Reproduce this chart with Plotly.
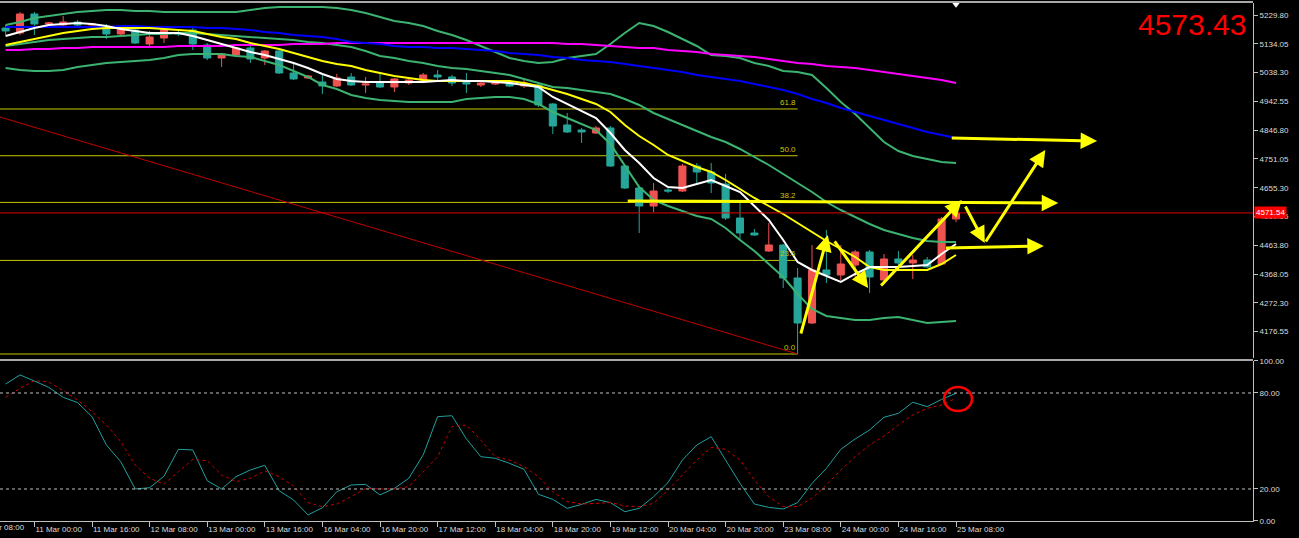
import plotly.graph_objects as go

# ---------------- data ----------------
bar_index = list(range(67))
tick_index = [2, 6, 10, 14, 18, 22, 26, 30, 34, 38, 42, 46, 50, 54, 58, 62, 66]
tick_labels = ["11 Mar 00:00", "11 Mar 16:00", "12 Mar 08:00", "13 Mar 00:00", "13 Mar 16:00",
               "16 Mar 04:00", "16 Mar 20:00", "17 Mar 12:00", "18 Mar 04:00", "18 Mar 20:00",
               "19 Mar 12:00", "20 Mar 04:00", "20 Mar 20:00", "23 Mar 08:00", "24 Mar 00:00",
               "24 Mar 16:00", "25 Mar 08:00"]
first_partial_label = "10 Mar 08:00"
price_ticks = [5229.80, 5134.05, 5038.30, 4942.55, 4846.80, 4751.05, 4655.30, 4559.55,
               4463.80, 4368.05, 4272.30, 4176.55]
osc_ticks = [0, 20, 80, 100]

opens = [5186.6, 5169.9, 5233.1, 5199.9, 5196.5, 5206.5, 5196.5, 5189.9, 5166.6, 5179.9,
         5133.4, 5153.3, 5169.9, 5179.9, 5130.0, 5086.8, 5096.8, 5120.1, 5086.8, 5110.1,
         5036.9, 5020.3, 5007.0, 4993.7, 5023.6, 4997.0, 5003.6, 4990.3, 5003.6, 5013.6,
         5030.3, 5023.6, 5007.0, 4997.0, 5000.3, 5007.0, 4993.7, 4997.0, 4933.8, 4864.0,
         4847.3, 4837.3, 4854.0, 4727.6, 4654.4, 4594.5, 4647.8, 4644.4, 4727.6, 4707.6,
         4667.7, 4554.6, 4504.7, 4444.9, 4464.8, 4355.1, 4205.4, 4381.7, 4365.1, 4398.3,
         4441.6, 4348.4, 4418.3, 4405.0, 4414.9, 4401.6, 4551.3]
highs = [5196.5, 5239.8, 5239.8, 5206.5, 5226.5, 5213.2, 5203.2, 5199.9, 5189.9, 5186.6,
         5176.6, 5183.2, 5179.9, 5186.6, 5136.7, 5103.4, 5123.4, 5126.7, 5113.4, 5113.4,
         5070.2, 5030.3, 5033.6, 5033.6, 5036.9, 5023.6, 5036.9, 5020.3, 5020.3, 5036.9,
         5046.9, 5030.3, 5036.9, 5007.0, 5007.0, 5013.6, 5013.6, 5003.6, 4937.1, 4903.9,
         4854.0, 4860.6, 4860.6, 4730.9, 4657.7, 4671.1, 4657.7, 4734.2, 4737.6, 4737.6,
         4701.0, 4604.5, 4518.0, 4538.0, 4468.2, 4388.3, 4464.8, 4514.7, 4464.8, 4448.3,
         4448.3, 4434.9, 4444.9, 4431.6, 4424.9, 4558.0, 4591.2]
lows = [5163.3, 5163.3, 5163.3, 5193.2, 5193.2, 5193.2, 5189.9, 5150.0, 5163.3, 5133.4,
        5123.4, 5136.7, 5160.0, 5113.4, 5080.1, 5056.9, 5093.4, 5070.2, 5063.5, 5033.6,
        5013.6, 5017.0, 4967.1, 4990.3, 4993.7, 4970.4, 4987.0, 4973.7, 4997.0, 5007.0,
        5007.0, 4993.7, 4970.4, 4990.3, 4997.0, 4990.3, 4987.0, 4923.8, 4834.0, 4837.3,
        4804.1, 4834.0, 4724.3, 4651.1, 4504.7, 4574.6, 4637.8, 4641.1, 4671.1, 4637.8,
        4548.0, 4481.5, 4494.8, 4441.6, 4321.8, 4102.3, 4202.1, 4338.4, 4348.4, 4358.4,
        4305.2, 4341.8, 4381.7, 4351.8, 4388.3, 4398.3, 4541.3]
closes = [5176.6, 5233.1, 5199.9, 5203.2, 5206.5, 5196.5, 5199.9, 5166.6, 5186.6, 5136.7,
          5156.6, 5179.9, 5166.6, 5133.4, 5086.8, 5100.1, 5120.1, 5083.5, 5110.1, 5036.9,
          5017.0, 5027.0, 4993.7, 5020.3, 4997.0, 5000.3, 4990.3, 5017.0, 5013.6, 5030.3,
          5023.6, 5003.6, 5000.3, 5003.6, 5003.6, 4993.7, 5003.6, 4930.5, 4860.6, 4840.7,
          4840.7, 4854.0, 4727.6, 4654.4, 4594.5, 4644.4, 4644.4, 4727.6, 4707.6, 4671.1,
          4554.6, 4504.7, 4498.1, 4464.8, 4355.1, 4205.4, 4381.7, 4365.1, 4401.6, 4441.6,
          4358.4, 4418.3, 4405.0, 4414.9, 4391.7, 4551.3, 4571.54]

ma_white = [5160.0, 5173.3, 5186.6, 5196.5, 5199.9, 5203.2, 5199.9, 5193.2, 5183.2, 5176.6,
            5169.9, 5169.9, 5169.9, 5160.0, 5146.7, 5133.4, 5120.1, 5106.8, 5096.8, 5083.5,
            5070.2, 5053.5, 5033.6, 5017.0, 5010.3, 5007.0, 5007.0, 5007.0, 5007.0, 5007.0,
            5010.3, 5013.6, 5010.3, 5010.3, 5007.0, 5003.6, 4997.0, 4990.3, 4957.1, 4933.8,
            4910.5, 4887.2, 4837.3, 4780.8, 4737.6, 4687.7, 4657.7, 4654.4, 4667.7, 4681.0,
            4661.1, 4641.1, 4594.5, 4548.0, 4481.5, 4408.3, 4381.7, 4361.7, 4341.8, 4368.4,
            4391.7, 4391.7, 4391.7, 4395.0, 4398.3, 4434.9, 4468.2]
ma_yellow = [5130.0, 5140.0, 5150.0, 5160.0, 5169.9, 5176.6, 5183.2, 5186.6, 5186.6, 5186.6,
             5186.6, 5183.2, 5179.9, 5176.6, 5166.6, 5156.6, 5150.0, 5136.7, 5126.7, 5116.7,
             5103.4, 5090.1, 5076.8, 5066.8, 5060.2, 5046.9, 5036.9, 5027.0, 5020.3, 5013.6,
             5010.3, 5010.3, 5010.3, 5010.3, 5010.3, 5010.3, 5003.6, 4993.7, 4980.4, 4967.1,
             4950.4, 4933.8, 4907.2, 4864.0, 4827.4, 4797.4, 4764.2, 4744.2, 4724.3, 4707.6,
             4681.0, 4651.1, 4621.2, 4594.5, 4567.9, 4538.0, 4508.1, 4478.1, 4451.5, 4424.9,
             4391.7, 4381.7, 4381.7, 4381.7, 4381.7, 4401.6, 4431.6]
ma_blue = [5189.9, 5189.9, 5189.9, 5189.9, 5189.9, 5189.9, 5189.9, 5189.9, 5193.2, 5193.2,
           5189.9, 5189.9, 5189.9, 5189.9, 5186.6, 5186.6, 5183.2, 5179.9, 5173.3, 5169.9,
           5163.3, 5160.0, 5156.6, 5150.0, 5140.0, 5136.7, 5133.4, 5126.7, 5123.4, 5123.4,
           5120.1, 5120.1, 5116.7, 5113.4, 5110.1, 5103.4, 5100.1, 5096.8, 5090.1, 5086.8,
           5080.1, 5076.8, 5073.5, 5066.8, 5060.2, 5053.5, 5046.9, 5040.2, 5030.3, 5023.6,
           5017.0, 5010.3, 5000.3, 4990.3, 4980.4, 4967.1, 4950.4, 4937.1, 4920.5, 4907.2,
           4893.9, 4880.6, 4867.3, 4854.0, 4840.7, 4830.7, 4820.7]
ma_magenta = [5113.4, 5113.4, 5116.7, 5116.7, 5120.1, 5120.1, 5123.4, 5123.4, 5123.4, 5123.4,
              5123.4, 5123.4, 5126.7, 5126.7, 5126.7, 5126.7, 5130.0, 5130.0, 5130.0, 5130.0,
              5133.4, 5133.4, 5133.4, 5136.7, 5136.7, 5136.7, 5136.7, 5136.7, 5136.7, 5136.7,
              5136.7, 5136.7, 5136.7, 5136.7, 5136.7, 5136.7, 5136.7, 5136.7, 5136.7, 5133.4,
              5133.4, 5130.0, 5126.7, 5123.4, 5120.1, 5120.1, 5113.4, 5110.1, 5106.8, 5100.1,
              5096.8, 5093.4, 5090.1, 5083.5, 5076.8, 5070.2, 5066.8, 5060.2, 5056.9, 5053.5,
              5046.9, 5040.2, 5033.6, 5027.0, 5020.3, 5013.6, 5003.6]
bb_upper = [5196.5, 5206.5, 5219.8, 5226.5, 5233.1, 5239.8, 5243.1, 5246.4, 5246.4, 5243.1,
            5243.1, 5239.8, 5239.8, 5239.8, 5239.8, 5239.8, 5239.8, 5246.4, 5253.1, 5256.4,
            5256.4, 5256.4, 5256.4, 5253.1, 5246.4, 5236.5, 5223.2, 5209.9, 5203.2, 5193.2,
            5176.6, 5163.3, 5146.7, 5126.7, 5106.8, 5086.8, 5076.8, 5070.2, 5073.5, 5086.8,
            5093.4, 5100.1, 5133.4, 5169.9, 5203.2, 5193.2, 5173.3, 5150.0, 5126.7, 5096.8,
            5093.4, 5086.8, 5070.2, 5060.2, 5043.6, 5040.2, 5030.3, 4987.0, 4940.4, 4900.5,
            4854.0, 4807.4, 4777.5, 4760.8, 4750.9, 4740.9, 4737.6]
bb_middle = [5126.7, 5133.4, 5140.0, 5146.7, 5150.0, 5153.3, 5156.6, 5156.6, 5160.0, 5163.3,
             5166.6, 5166.6, 5169.9, 5169.9, 5166.6, 5163.3, 5160.0, 5156.6, 5153.3, 5150.0,
             5146.7, 5140.0, 5136.7, 5130.0, 5123.4, 5110.1, 5093.4, 5086.8, 5076.8, 5070.2,
             5060.2, 5053.5, 5050.2, 5043.6, 5036.9, 5030.3, 5017.0, 5003.6, 4990.3, 4987.0,
             4980.4, 4973.7, 4967.1, 4950.4, 4930.5, 4903.9, 4883.9, 4864.0, 4844.0, 4824.0,
             4807.4, 4784.1, 4757.5, 4730.9, 4701.0, 4671.1, 4641.1, 4607.8, 4581.2, 4558.0,
             4534.7, 4514.7, 4501.4, 4488.1, 4478.1, 4474.8, 4474.8]
bb_lower = [5053.5, 5046.9, 5043.6, 5043.6, 5046.9, 5056.9, 5063.5, 5070.2, 5073.5, 5076.8,
            5080.1, 5086.8, 5096.8, 5100.1, 5100.1, 5100.1, 5093.4, 5090.1, 5076.8, 5063.5,
            5043.6, 5023.6, 4997.0, 4983.7, 4963.7, 4953.8, 4947.1, 4943.8, 4940.4, 4940.4,
            4940.4, 4940.4, 4950.4, 4953.8, 4957.1, 4957.1, 4950.4, 4933.8, 4907.2, 4887.2,
            4867.3, 4847.3, 4800.8, 4730.9, 4657.7, 4614.5, 4594.5, 4577.9, 4561.3, 4551.3,
            4521.4, 4481.5, 4444.9, 4401.6, 4358.4, 4301.9, 4252.0, 4228.7, 4222.0, 4215.4,
            4215.4, 4222.0, 4225.4, 4215.4, 4205.4, 4208.7, 4212.1]

stoch_main = [85.6, 91.3, 87.5, 83.5, 77.3, 74.0, 65.2, 47.5, 37.0, 20.0,
              20.8, 28.0, 44.8, 44.4, 25.2, 20.0, 27.7, 31.9, 34.8, 18.9,
              13.1, 3.8, 8.3, 18.3, 22.5, 22.9, 16.3, 20.4, 26.7, 41.3,
              65.2, 65.8, 51.3, 40.2, 39.2, 36.0, 32.3, 16.7, 13.5, 7.9,
              10.4, 13.5, 11.5, 5.8, 7.9, 15.2, 24.0, 38.1, 47.5, 52.7,
              38.1, 23.5, 10.6, 8.5, 7.5, 11.5, 23.5, 32.9, 44.8, 51.3,
              56.9, 64.8, 67.3, 74.2, 71.5, 76.0, 79.8]
stoch_signal = [77.3, 82.9, 87.7, 86.9, 81.5, 75.6, 68.3, 60.0, 49.6, 35.0,
                26.7, 23.1, 30.8, 38.5, 37.7, 28.8, 24.6, 26.7, 31.3, 27.7,
                21.9, 11.5, 9.0, 10.6, 15.2, 20.4, 20.0, 20.0, 21.5, 31.0,
                40.2, 59.0, 60.0, 50.6, 40.2, 38.1, 34.0, 27.7, 18.3, 12.1,
                10.6, 11.0, 11.5, 9.4, 9.0, 11.0, 19.4, 28.8, 38.1, 46.0,
                44.8, 38.1, 25.6, 15.2, 9.0, 9.0, 14.2, 22.5, 31.9, 40.2,
                47.5, 53.1, 60.0, 66.3, 70.4, 72.5, 76.7]

fib_levels = [4102.3, 4413.5, 4606.5, 4761.6, 4917.2]
fib_labels = ["0.0", "23.6", "38.2", "50.0", "61.8"]
fib_end_index = 55
trend_line = [(-1.0, 4899.0), (55.0, 4102.3)]
bid_price = 4571.54
ask_text = "4573.43"
osc_levels = [20, 80]
# hand-drawn arrows: (tail index, tail price, head index, head price)
arrows = [
    (55.2, 4165.5, 57.1, 4498.1),
    (57.5, 4481.5, 59.9, 4321.8),
    (60.7, 4325.1, 66.4, 4614.5),
    (66.6, 4597.9, 68.0, 4471.5),
    (68.0, 4471.5, 72.2, 4780.8),
    (43.1, 4611.2, 73.1, 4604.5),
    (65.6, 4820.7, 75.8, 4810.7),
    (65.2, 4454.9, 72.1, 4461.5),
]
circle_mark = dict(x0=65.17, x1=67.11, y0=68.75, y1=83.75)

# ---------------- styling ----------------
UP = "#ef5350"
DOWN = "#26a69a"
BB = "#3cb371"
AX = "#c0c0c0"
TXT = "#dcdcdc"
FIB = "#c8c800"
FONT = "Liberation Sans"

fig = go.Figure()
fig.add_trace(go.Candlestick(
    x=bar_index, open=opens, high=highs, low=lows, close=closes,
    increasing=dict(line=dict(color=UP, width=1), fillcolor=UP),
    decreasing=dict(line=dict(color=DOWN, width=1), fillcolor=DOWN),
    xaxis="x", yaxis="y", hoverinfo="skip", showlegend=False))

for series, color, w in [(bb_upper, BB, 2), (bb_middle, BB, 2), (bb_lower, BB, 2),
                         (ma_magenta, "#ff00ff", 2), (ma_blue, "#0000ff", 2),
                         (ma_yellow, "#ffff00", 2), (ma_white, "#ffffff", 2)]:
    fig.add_trace(go.Scatter(x=bar_index, y=series, mode="lines",
                             line=dict(color=color, width=w),
                             xaxis="x", yaxis="y", hoverinfo="skip", showlegend=False))

fig.add_trace(go.Scatter(x=bar_index, y=stoch_main, mode="lines",
                         line=dict(color="#20a0a0", width=1),
                         xaxis="x", yaxis="y2", hoverinfo="skip", showlegend=False))
fig.add_trace(go.Scatter(x=bar_index, y=stoch_signal, mode="lines",
                         line=dict(color="#d00000", width=1, dash="3px,3px"),
                         xaxis="x", yaxis="y2", hoverinfo="skip", showlegend=False))

# current bar marker at the top
fig.add_trace(go.Scatter(x=[bar_index[-1]], y=[5267.0], mode="markers",
                         marker=dict(symbol="triangle-down", size=8, color="white"),
                         cliponaxis=False, xaxis="x", yaxis="y", hoverinfo="skip",
                         showlegend=False))

shapes = []
for lvl in fib_levels:
    shapes.append(dict(type="line", xref="x", yref="y", x0=-1, x1=fib_end_index,
                       y0=lvl, y1=lvl, line=dict(color=FIB, width=1), layer="below"))
shapes.append(dict(type="line", xref="x", yref="y",
                   x0=trend_line[0][0], y0=trend_line[0][1],
                   x1=trend_line[1][0], y1=trend_line[1][1],
                   line=dict(color="#c00000", width=1), layer="below"))
shapes.append(dict(type="line", xref="paper", yref="y", x0=0, x1=1,
                   y0=bid_price, y1=bid_price, line=dict(color="#e00000", width=1)))
for lv in osc_levels:
    shapes.append(dict(type="line", xref="paper", yref="y2", x0=0, x1=1, y0=lv, y1=lv,
                       line=dict(color=AX, width=1, dash="3px,3px")))
# frame lines
shapes.append(dict(type="line", xref="paper", yref="paper", x0=0, x1=1,
                   y0=1.0019, y1=1.0019, line=dict(color="#a8a8a8", width=2)))
shapes.append(dict(type="line", xref="paper", yref="paper", x0=0, x1=1,
                   y0=0.3108, y1=0.3108, line=dict(color="#a8a8a8", width=2)))
shapes.append(dict(type="circle", xref="x", yref="y2", line=dict(color="#ff0000", width=2.5),
                   **circle_mark))

annotations = []
for lvl, lab in zip(fib_levels, fib_labels):
    annotations.append(dict(x=fib_end_index, y=lvl, xref="x", yref="y", text=lab,
                            showarrow=False, xanchor="right", yanchor="bottom",
                            font=dict(family=FONT, size=8, color=FIB)))
for (tx, ty, hx, hy) in arrows:
    annotations.append(dict(x=hx, y=hy, ax=tx, ay=ty, xref="x", yref="y",
                            axref="x", ayref="y", text="", showarrow=True,
                            arrowhead=2, arrowsize=1.1, arrowwidth=3,
                            arrowcolor="#ffff00"))
annotations.append(dict(xref="paper", yref="paper", x=0.996, y=0.9585, text=ask_text,
                        showarrow=False, xanchor="right", yanchor="middle",
                        font=dict(family="Liberation Sans", size=30, color="#ff0000")))
annotations.append(dict(xref="paper", yref="y", x=1, y=bid_price, text=f"{bid_price:.2f}",
                        showarrow=False, xanchor="left", yanchor="middle", xshift=1,
                        bgcolor="#ff0000", borderpad=1,
                        font=dict(family=FONT, size=8, color="white")))
annotations.append(dict(xref="paper", yref="paper", x=0, y=-0.0135, text=first_partial_label,
                        showarrow=False, xanchor="right", yanchor="middle", xshift=27,
                        font=dict(family=FONT, size=8, color=TXT)))

fig.update_layout(
    width=1299, height=538,
    paper_bgcolor="black", plot_bgcolor="black",
    margin=dict(l=0, r=46, t=3, b=17, autoexpand=False),
    showlegend=False,
    font=dict(family=FONT, size=8, color=TXT),
    xaxis=dict(domain=[0, 1], range=[-0.389, 86.625], anchor="y2", automargin=False,
               showgrid=False, zeroline=False, rangeslider=dict(visible=False),
               tickvals=tick_index, ticktext=tick_labels, ticks="outside", ticklen=5,
               tickcolor=AX, showline=True, linecolor=AX, linewidth=1, tickangle=0,
               ticklabelposition="outside right",
               tickfont=dict(family=FONT, size=8, color=TXT)),
    yaxis=dict(domain=[0.3147, 1], range=[4089.0, 5269.7], side="right", anchor="x",
               automargin=False,
               showgrid=False, zeroline=False, tickvals=price_ticks,
               ticktext=[f"{v:.2f}" for v in price_ticks], ticks="outside", ticklen=4,
               tickcolor=AX, showline=True, linecolor=AX, linewidth=1,
               tickfont=dict(family=FONT, size=8, color=TXT)),
    yaxis2=dict(domain=[0, 0.3089], range=[0, 100], side="right", anchor="x",
                automargin=False,
                showgrid=False, zeroline=False, tickvals=osc_ticks,
                ticktext=[f"{v:.2f}" for v in osc_ticks], ticks="outside", ticklen=4,
                tickcolor=AX, showline=True, linecolor=AX, linewidth=1,
                tickfont=dict(family=FONT, size=8, color=TXT)),
    shapes=shapes,
    annotations=annotations,
)

fig.write_html("out.html", config={"displayModeBar": False},
               post_script="document.body.style.margin='0';document.body.style.padding='0';")
